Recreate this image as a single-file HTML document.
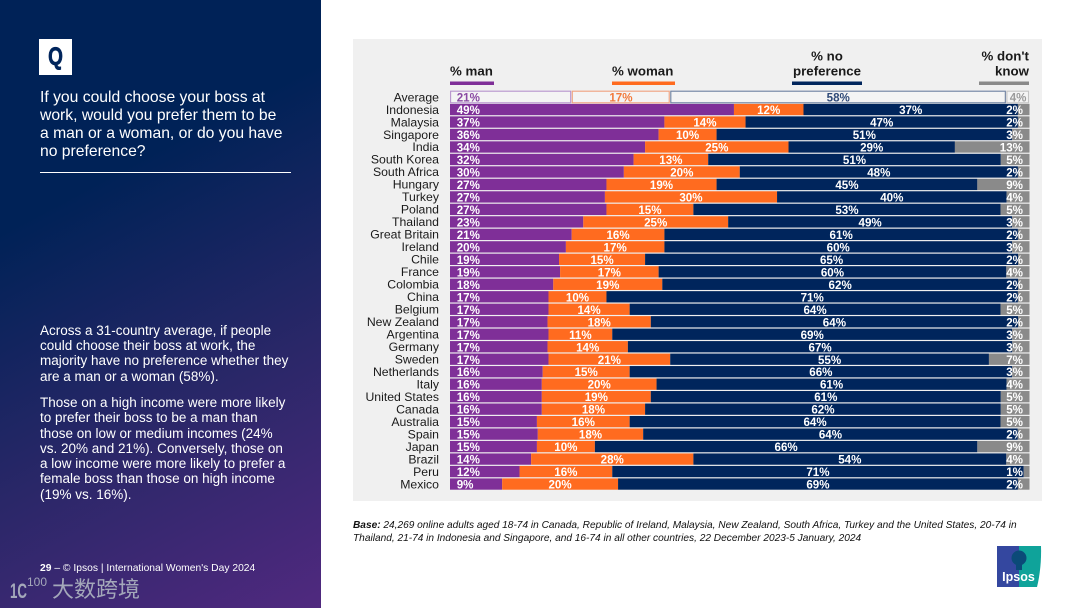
<!DOCTYPE html>
<html lang="en">
<head>
<meta charset="utf-8">
<title>Boss preference by country</title>
<style>
html,body{margin:0;padding:0;background:#fff;}
#slide{position:relative;width:1080px;height:608px;overflow:hidden;background:#fff;font-family:"Liberation Sans",Arial,sans-serif;}
#side{position:absolute;left:0;top:0;width:321px;height:608px;background:linear-gradient(152deg,#002257 0%,#002257 30%,#2a2768 65%,#50297f 100%);color:#fff;}
#qbox{position:absolute;left:39px;top:39px;width:33px;height:36px;background:#fff;}
#qglyph{position:absolute;left:0;top:0;width:33px;text-align:center;color:#00255c;font:bold 25px/36px "Liberation Sans",sans-serif;transform:scaleX(.76);-webkit-text-stroke:.7px #00255c;}
.abs{position:absolute;margin:0;}
#question{left:40px;top:89px;width:275px;font-size:15.7px;line-height:18px;white-space:nowrap;}
#rule{left:40px;top:172px;width:251px;height:1px;background:#fff;}
#body1{left:40px;top:323px;width:275px;font-size:13.5px;line-height:15.2px;white-space:nowrap;}
#body2{left:40px;top:395px;width:275px;font-size:13.5px;line-height:15.3px;white-space:nowrap;}
#foot{left:40px;top:562px;font-size:10.3px;line-height:12px;white-space:nowrap;transform:translateY(1px);}
#wm{left:52px;top:575px;font:22px/26px "Noto Sans CJK SC","Liberation Sans",sans-serif;color:#a4a8ba;white-space:nowrap;}
#base{left:353px;top:518.500px;width:690px;font-size:10.13px;line-height:13.3px;font-style:italic;color:#111;white-space:nowrap;}
svg{position:absolute;left:0;top:0;}
</style>
</head>
<body>
<div id="slide">
  <div id="side">
    <div id="qbox"><div id="qglyph">Q</div></div>
    <p class="abs" id="question">If you could choose your boss at<br>work, would you prefer them to be<br>a man or a woman, or do you have<br>no preference?</p>
    <div class="abs" id="rule"></div>
    <p class="abs" id="body1">Across a 31-country average, if people<br>could choose their boss at work, the<br>majority have no preference whether they<br>are a man or a woman (58%).</p>
    <p class="abs" id="body2">Those on a high income were more likely<br>to prefer their boss to be a man than<br>those on low or medium incomes (24%<br>vs. 20% and 21%). Conversely, those on<br>a low income were more likely to prefer a<br>female boss than those on high income<br>(19% vs. 16%).</p>
    <div class="abs" id="foot"><b>29</b> – © Ipsos | International Women's Day 2024</div>
    <svg width="50" height="30" style="left:8px;top:574px">
      <text x="2" y="24" font-family="Liberation Sans, sans-serif" font-size="21" font-weight="bold" fill="#a4a8ba" textLength="17" lengthAdjust="spacingAndGlyphs">1C</text>
      <text x="19" y="12" font-family="Liberation Sans, sans-serif" font-size="12" fill="#a4a8ba" textLength="20" lengthAdjust="spacingAndGlyphs">100</text>
    </svg>
    <div class="abs" id="wm">大数跨境</div>
  </div>
  <svg id="chart" width="1080" height="608" viewBox="0 0 1080 608">
    <rect x="353" y="39" width="689" height="462" fill="#f0f0f0"></rect>
    <g font-family="Liberation Sans, sans-serif" font-weight="bold" font-size="13.3" fill="#1a1a1a">
      <text x="450" y="75.500">% man</text>
      <rect x="450" y="81.500" width="44" height="3.500" fill="#7f2f98"></rect>
      <text x="612" y="75.500">% woman</text>
      <rect x="612" y="81.500" width="63" height="3.500" fill="#ff6b1f"></rect>
      <text x="827" y="60.500" text-anchor="middle">% no</text>
      <text x="827" y="75.500" text-anchor="middle">preference</text>
      <rect x="792" y="81.500" width="70" height="3.500" fill="#00255c"></rect>
      <text x="1029" y="60.500" text-anchor="end">% don't</text>
      <text x="1029" y="75.500" text-anchor="end">know</text>
      <rect x="979" y="81.500" width="50" height="3.500" fill="#8a8a8a"></rect>
    </g>
    <g id="rows"></g>
  </svg>
  <p class="abs" id="base"><b>Base:</b> 24,269 online adults aged 18-74 in Canada, Republic of Ireland, Malaysia, New Zealand, South Africa, Turkey and the United States, 20-74 in<br>Thailand, 21-74 in Indonesia and Singapore, and 16-74 in all other countries, 22 December 2023-5 January, 2024</p>
  <svg width="46" height="43" style="left:996px;top:545px" viewBox="0 0 46 43">
    <rect x="1" y="1" width="22" height="41" fill="#34479f"></rect>
    <path d="M23 1H45C45.500 15 44 30 41 42H23Z" fill="#0fa39a"></path>
    <circle cx="23" cy="13" r="7.500" fill="#0b4a78"></circle>
    <rect x="20" y="18" width="6" height="7" fill="#0b4a78"></rect>
    <text x="22.500" y="36" text-anchor="middle" font-family="Liberation Sans, sans-serif" font-weight="bold" font-size="12.500" fill="#fff">Ipsos</text>
  </svg>
</div>
<script>
const categories = ["Average","Indonesia","Malaysia","Singapore","India","South Korea","South Africa","Hungary","Turkey","Poland","Thailand","Great Britain","Ireland","Chile","France","Colombia","China","Belgium","New Zealand","Argentina","Germany","Sweden","Netherlands","Italy","United States","Canada","Australia","Spain","Japan","Brazil","Peru","Mexico"];
const manValues = [21,49,37,36,34,32,30,27,27,27,23,21,20,19,19,18,17,17,17,17,17,17,16,16,16,16,15,15,15,14,12,9];
const womanValues = [17,12,14,10,25,13,20,19,30,15,25,16,17,15,17,19,10,14,18,11,14,21,15,20,19,18,16,18,10,28,16,20];
const noPreferenceValues = [58,37,47,51,29,51,48,45,40,53,49,61,60,65,60,62,71,64,64,69,67,55,66,61,61,62,64,64,66,54,71,69];
const dontKnowValues = [4,2,2,3,13,5,2,9,4,5,3,2,3,2,4,2,2,5,2,3,3,7,3,4,5,5,5,2,9,4,1,2];

const seriesColors = ["#7f2f98","#ff6b1f","#00255c","#8a8a8a"];
const seriesStrokes = ["#b793cd","#f0a27e","#6d80a0","#c4c4c4"];
const seriesText = ["#8a4aa3","#f27a3c","#2f4a78","#9a9a9a"];
const NS = "http://www.w3.org/2000/svg";
const plotLeft = 450, plotWidth = 579.5, firstRowY = 97, rowStep = 12.484, barHeight = 11.3;
const yScale = i => firstRowY + i * rowStep;
const xScale = share => plotLeft + plotWidth * share;
const rowsGroup = document.getElementById("rows");

function addText(x, y, str, anchor, size, weight, fill) {
  const t = document.createElementNS(NS, "text");
  t.setAttribute("x", x);
  t.setAttribute("y", y);
  t.setAttribute("text-anchor", anchor);
  t.setAttribute("font-family", "Liberation Sans, sans-serif");
  t.setAttribute("font-size", size);
  t.setAttribute("font-weight", weight);
  t.setAttribute("fill", fill);
  t.textContent = str;
  rowsGroup.appendChild(t);
  return t;
}

categories.forEach((cat, i) => {
  const vals = [manValues[i], womanValues[i], noPreferenceValues[i], dontKnowValues[i]];
  const total = vals.reduce((a, b) => a + b, 0);
  const cy = yScale(i);
  const catLabel = addText(439, cy + 4.3, cat, "end", 12.25, "normal", "#1a1a1a");
  
  
  let cum = 0;
  const labels = [];
  vals.forEach((v, s) => {
    const x0 = xScale(cum / total);
    cum += v;
    const x1 = xScale(cum / total);
    const r = document.createElementNS(NS, "rect");
    if (i === 0) {
      r.setAttribute("x", x0 + 0.6);
      r.setAttribute("y", cy - 5.8);
      r.setAttribute("width", Math.max(0, x1 - x0 - 1.6));
      r.setAttribute("height", 11.6);
      r.setAttribute("fill", "#f4f4f4");
      r.setAttribute("stroke", seriesStrokes[s]);
      r.setAttribute("stroke-width", "1.1");
    } else {
      r.setAttribute("x", x0);
      r.setAttribute("y", cy - 5.6);
      r.setAttribute("width", x1 - x0);
      r.setAttribute("height", barHeight);
      r.setAttribute("fill", seriesColors[s]);
    }
    
    
    rowsGroup.appendChild(r);
    labels.push([x0, x1, v, s]);
  });
  labels.forEach(([x0, x1, v, s]) => {
    let lx, anchor;
    if (s === 0) { lx = plotLeft + 6.7; anchor = "start"; }
    else if (s === 3) { lx = i === 0 ? 1026.5 : 1023; anchor = "end"; }
    else { lx = (x0 + x1) / 2; anchor = "middle"; }
    const lab = addText(lx, cy + 4.6, v + "%", anchor, 11.6, "bold", i === 0 ? seriesText[s] : "#ffffff");
    
    
  });
});
</script>
</body>
</html>
